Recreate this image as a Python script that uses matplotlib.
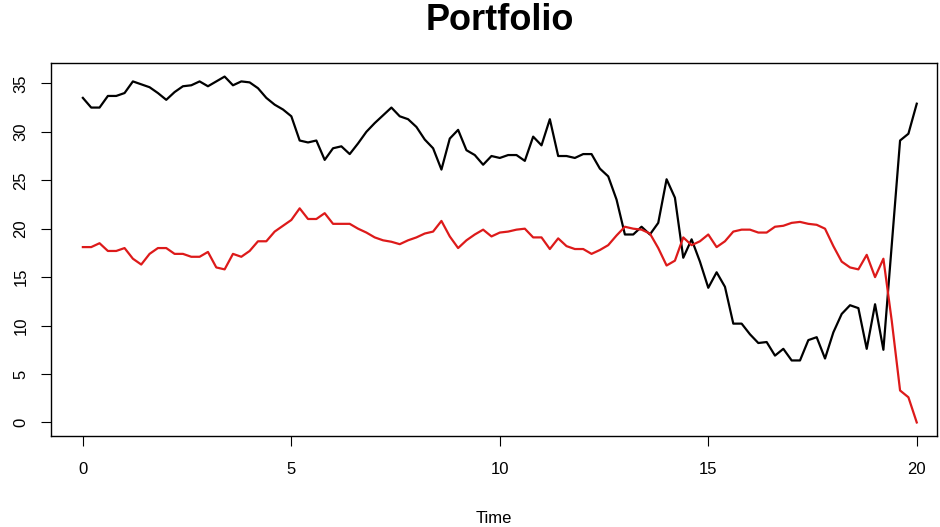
import matplotlib
matplotlib.use("Agg")
import matplotlib.pyplot as plt
import numpy as np

plt.rcParams['font.family'] = ['Liberation Sans', 'DejaVu Sans']

# portfolio holdings, one value every 0.2 time units
black = [33.5, 32.5, 32.5, 33.7, 33.7, 34.0, 35.2, 34.9, 34.6, 34.0,
         33.3, 34.1, 34.7, 34.8, 35.2, 34.7, 35.2, 35.7, 34.8, 35.2,
         35.1, 34.5, 33.5, 32.8, 32.3, 31.6, 29.1, 28.9, 29.1, 27.1,
         28.3, 28.5, 27.7, 28.8, 30.0, 30.9, 31.7, 32.5, 31.6, 31.3,
         30.5, 29.2, 28.3, 26.1, 29.3, 30.2, 28.1, 27.6, 26.6, 27.5,
         27.3, 27.6, 27.6, 27.0, 29.5, 28.6, 31.3, 27.5, 27.5, 27.3,
         27.7, 27.7, 26.2, 25.4, 23.0, 19.4, 19.4, 20.2, 19.4, 20.6,
         25.1, 23.2, 17.0, 18.9, 16.6, 13.9, 15.5, 14.0, 10.2, 10.2,
         9.1, 8.2, 8.3, 6.9, 7.6, 6.4, 6.4, 8.5, 8.8, 6.6,
         9.3, 11.2, 12.1, 11.8, 7.6, 12.2, 7.5, 18.3, 29.1, 29.8,
         32.9]
red = [18.1, 18.1, 18.5, 17.7, 17.7, 18.0, 16.9, 16.3, 17.4, 18.0,
       18.0, 17.4, 17.4, 17.1, 17.1, 17.6, 16.0, 15.8, 17.4, 17.1,
       17.7, 18.7, 18.7, 19.7, 20.3, 20.9, 22.1, 21.0, 21.0, 21.6,
       20.5, 20.5, 20.5, 20.0, 19.6, 19.1, 18.8, 18.65, 18.4, 18.8,
       19.1, 19.5, 19.7, 20.8, 19.2, 18.0, 18.8, 19.4, 19.9, 19.2,
       19.6, 19.7, 19.9, 20.0, 19.1, 19.1, 17.9, 19.0, 18.2, 17.9,
       17.9, 17.4, 17.8, 18.3, 19.3, 20.2, 20.0, 19.9, 19.5, 18.0,
       16.2, 16.7, 19.1, 18.3, 18.7, 19.4, 18.1, 18.7, 19.7, 19.9,
       19.9, 19.6, 19.6, 20.2, 20.3, 20.6, 20.7, 20.5, 20.4, 20.0,
       18.2, 16.6, 16.0, 15.8, 17.3, 15.0, 16.9, 10.5, 3.3, 2.6,
       0.0]
time = np.linspace(0, 20, len(black))

xticks = [0, 5, 10, 15, 20]
yticks = [0, 5, 10, 15, 20, 25, 30, 35]

fig = plt.figure(figsize=(9.4, 5.27), dpi=100)
ax = fig.add_axes([0.054, 0.173, 0.943, 0.708])

ax.plot(time, black, color='black', lw=1.6)
ax.plot(time, red, color='#dd1a1a', lw=1.6)

ax.set_xlim(-0.77, 20.49)
ax.set_ylim(-1.38, 37.13)
ax.set_xticks(xticks)
ax.set_yticks(yticks)
ax.tick_params(direction='out', length=7, width=0.8, labelsize=12, pad=12)
ax.tick_params(axis='y', pad=9)
for lbl in ax.get_yticklabels():
    lbl.set_rotation(90)
    lbl.set_va('center')
for s in ax.spines.values():
    s.set_linewidth(1.0)

ax.set_xlabel('Time', fontsize=12, labelpad=24)
fig.text(0.532, 0.962, 'Portfolio', ha='center', va='center',
         fontsize=26, fontweight='bold')

fig.savefig('out.png', dpi=100)
